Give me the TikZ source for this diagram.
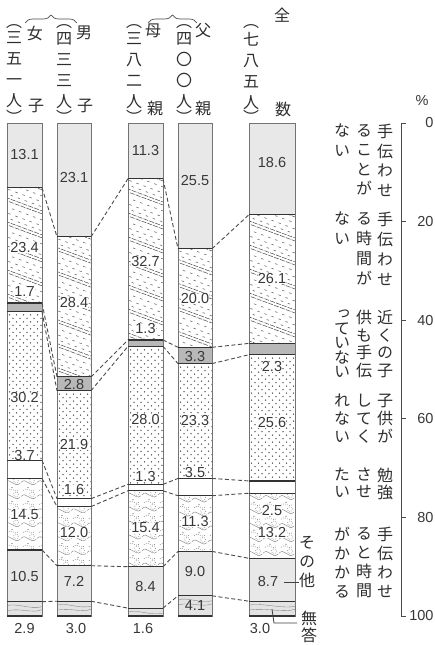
\documentclass[tikz,border=0pt]{standalone}
\usepackage{fontspec}
\setmainfont{Liberation Sans}
\newfontfamily\jp{Noto Sans CJK JP}
\newfontfamily\jpv[RawFeature=+vert]{Noto Sans CJK JP}
\usetikzlibrary{decorations.pathreplacing}
\setlength{\lineskiplimit}{-20pt}
\begin{document}
\begin{tikzpicture}[x=1pt,y=-1pt,
  num/.style={font=\fontsize{14.5}{15}\selectfont, text=black!78, inner sep=0.3pt},
  numw/.style={num, fill=white},
  jcol/.style={font=\jpv\fontsize{16}{#1}\selectfont, text=black!82, align=center, inner sep=0pt, anchor=north},
  jch/.style={font=\jp\fontsize{16}{16}\selectfont, text=black!82, inner sep=0pt},
  conn/.style={dash pattern=on 4pt off 2.5pt, line width=0.9pt, black!70},
  bnd/.style={line width=1.2pt, black!80},
  outl/.style={line width=0.8pt, black!55},
  lightfill/.style={fill=black!9},
  bandfill/.style={fill=black!28},
  hatch/.style={line width=0.5pt, black!72, dash pattern=on 5pt off 1.2pt},
  hatchminor/.style={line width=0.55pt, black!60, dash pattern=on 2.5pt off 5pt},
  dotf/.style={fill=black!70},
  swirl/.style={line width=0.35pt, black!55},
  swirldot/.style={line width=0.6pt, black!60, dash pattern=on 0.6pt off 1.6pt},
  wavy/.style={line width=0.35pt, black!50},
  leader/.style={line width=0.8pt, black!75},
  axisline/.style={line width=0.8pt, black!70},
  bracestyle/.style={decorate, decoration={brace, amplitude=8pt}, line width=0.7pt, black!70}
]
\fill[white] (0,0) rectangle (435,645);
\useasboundingbox (0,0) rectangle (435,645);

% ---------- bars: fills and patterns ----------
\foreach \i/\xl/\xr/\pa/\pb/\pc/\pd/\pe/\pf/\pg in {
 1/7/42/13.1/36.5/38.2/68.4/72.1/86.6/97.1,
 2/57/91/23.1/51.5/54.3/76.2/77.8/89.8/97.0,
 3/128/163/11.3/44.0/45.3/73.3/74.6/90.0/98.4,
 4/178/212/25.5/45.5/48.8/72.1/75.6/86.9/95.9,
 5/249/295/18.6/44.7/47.0/72.6/75.1/88.3/97.0}{
  \pgfmathsetmacro\yo{123}
  \pgfmathsetmacro\ya{123+4.93*\pa}
  \pgfmathsetmacro\yb{123+4.93*\pb}
  \pgfmathsetmacro\yc{123+4.93*\pc}
  \pgfmathsetmacro\yd{123+4.93*\pd}
  \pgfmathsetmacro\ye{123+4.93*\pe}
  \pgfmathsetmacro\yf{123+4.93*\pf}
  \pgfmathsetmacro\yg{123+4.93*\pg}
  \pgfmathsetmacro\yh{616}
  \coordinate (B\i-L-0) at (\xl,\yo); \coordinate (B\i-R-0) at (\xr,\yo);
  \coordinate (B\i-L-1) at (\xl,\ya); \coordinate (B\i-R-1) at (\xr,\ya);
  \coordinate (B\i-L-2) at (\xl,\yb); \coordinate (B\i-R-2) at (\xr,\yb);
  \coordinate (B\i-L-3) at (\xl,\yc); \coordinate (B\i-R-3) at (\xr,\yc);
  \coordinate (B\i-L-4) at (\xl,\yd); \coordinate (B\i-R-4) at (\xr,\yd);
  \coordinate (B\i-L-5) at (\xl,\ye); \coordinate (B\i-R-5) at (\xr,\ye);
  \coordinate (B\i-L-6) at (\xl,\yf); \coordinate (B\i-R-6) at (\xr,\yf);
  \coordinate (B\i-L-7) at (\xl,\yg); \coordinate (B\i-R-7) at (\xr,\yg);
  \coordinate (B\i-L-8) at (\xl,\yh); \coordinate (B\i-R-8) at (\xr,\yh);
  % plain fills
  \fill[lightfill] (\xl,\yo) rectangle (\xr,\ya);
  \fill[bandfill] (\xl,\yb) rectangle (\xr,\yc);
  \fill[lightfill] (\xl,\yf) rectangle (\xr,\yg);
  \fill[fill=black!11] (\xl,\yg) rectangle (\xr,\yh);
  % hatch (cat 2)
  \begin{scope}
    \clip (\xl,\ya) rectangle (\xr,\yb);
    \pgfmathsetmacro\ww{\xr-\xl+4}
    \pgfmathsetmacro\hs{\ya-0.37*\ww-24}
    \pgfmathsetmacro\hn{\hs+24}
    \foreach \hy in {\hs,\hn,...,\yb}{
      \draw[hatch] ({\xl-2},\hy) -- ++({\ww},{0.37*\ww});
      \draw[hatch, dash phase=2pt] ({\xl-2},{\hy+3}) -- ++({\ww},{0.37*\ww});
      \draw[hatchminor] ({\xl-2},{\hy+9}) -- ++({\ww},{0.37*\ww});
      \draw[hatchminor, dash phase=4pt] ({\xl-2},{\hy+15}) -- ++({\ww},{0.37*\ww});
      \draw[hatchminor, dash phase=1.5pt] ({\xl-2},{\hy+20}) -- ++({\ww},{0.37*\ww});
    }
  \end{scope}
  % dots (cat 4)
  \begin{scope}
    \clip (\xl,\yc) rectangle (\xr,\yd);
    \pgfmathsetmacro\dsa{\yc+3.5}\pgfmathsetmacro\dsb{\yc+10.5}
    \pgfmathsetmacro\dxa{\xl+2.5}\pgfmathsetmacro\dxb{\xl+9.5}
    \foreach \yy in {\dsa,\dsb,...,\yd}{\foreach \xx in {\dxa,\dxb,...,\xr}{\fill[dotf] (\xx,\yy) circle (0.75pt);}}
    \pgfmathsetmacro\dsc{\yc+7}\pgfmathsetmacro\dsd{\yc+14}
    \pgfmathsetmacro\dxc{\xl+6}\pgfmathsetmacro\dxd{\xl+13}
    \foreach \yy in {\dsc,\dsd,...,\yd}{\foreach \xx in {\dxc,\dxd,...,\xr}{\fill[dotf] (\xx,\yy) circle (0.75pt);}}
  \end{scope}
  % swirls (cat 6)
  \begin{scope}
    \clip (\xl,\ye) rectangle (\xr,\yf);
    \pgfmathsetmacro\swa{\ye+1}\pgfmathsetmacro\swb{\ye+15}
    \pgfmathsetmacro\sxa{\xl-2}\pgfmathsetmacro\sxb{\xl+14}
    \foreach \yy in {\swa,\swb,...,\yf}{\foreach \xx in {\sxa,\sxb,...,\xr}{
      \draw[swirl] (\xx,{\yy+3}) .. controls ({\xx+5},{\yy-3}) and ({\xx+9},{\yy+9}) .. ({\xx+15},{\yy+4});
      \draw[swirldot] ({\xx+2},{\yy+11}) .. controls ({\xx+6},{\yy+6}) and ({\xx+10},{\yy+15}) .. ({\xx+14},{\yy+10});
      \draw[swirldot] ({\xx+11},{\yy+1}) circle (2.5pt);
      \fill[black!60] ({\xx+7},{\yy+8}) circle (0.6pt);
    }}
  \end{scope}
  % waves (no answer)
  \begin{scope}
    \clip (\xl,\yg) rectangle (\xr,\yh);
    \draw[wavy] (\xl,{\yg+4}) .. controls ({\xl+10},{\yg+1}) and ({\xr-12},{\yg+8}) .. (\xr,{\yg+5});
    \draw[wavy] (\xl,{\yg+9}) .. controls ({\xl+14},{\yg+6}) and ({\xr-10},{\yg+12}) .. (\xr,{\yg+8});
  \end{scope}
}

% ---------- value labels ----------
\node[num]  (n11) at (24.5,155) {13.1};
\node[numw] (n12) at (24.5,248) {23.4};
\node[numw] (n13) at (24.5,292) {1.7};
\node[numw] (n14) at (24.5,398) {30.2};
\node[numw] (n15) at (24.5,456) {3.7};
\node[numw] (n16) at (24.5,515) {14.5};
\node[num]  (n17) at (24.5,577) {10.5};
\node[num]  (n18) at (24.5,628) {2.9};

\node[num]  (n21) at (74,178) {23.1};
\node[numw] (n22) at (74,303) {28.4};
\node[num]  (n23) at (74,385) {2.8};
\node[numw] (n24) at (74,445) {21.9};
\node[numw] (n25) at (74,490) {1.6};
\node[numw] (n26) at (74,533) {12.0};
\node[num]  (n27) at (74,581) {7.2};
\node[num]  (n28) at (76,628) {3.0};

\node[num]  (n31) at (145.5,151) {11.3};
\node[numw] (n32) at (145.5,262) {32.7};
\node[numw] (n33) at (145.5,329) {1.3};
\node[numw] (n34) at (145.5,420) {28.0};
\node[numw] (n35) at (145.5,477) {1.3};
\node[numw] (n36) at (145.5,528) {15.4};
\node[num]  (n37) at (145.5,587) {8.4};
\node[num]  (n38) at (143,628) {1.6};

\node[num]  (n41) at (195,181) {25.5};
\node[numw] (n42) at (195,299) {20.0};
\node[num]  (n43) at (195,357) {3.3};
\node[numw] (n44) at (195,421) {23.3};
\node[numw] (n45) at (195,473) {3.5};
\node[numw] (n46) at (195,522) {11.3};
\node[num]  (n47) at (195,572) {9.0};
\node[num]  (n48) at (195,606) {4.1};

\node[num]  (n51) at (272,163) {18.6};
\node[numw] (n52) at (272,279) {26.1};
\node[numw] (n53) at (272,367) {2.3};
\node[numw] (n54) at (272,423) {25.6};
\node[numw] (n55) at (272,511) {2.5};
\node[numw] (n56) at (272,533) {13.2};
\node[num]  (n57) at (268,582) {8.7};
\node[num]  (n58) at (260,628) {3.0};

% ---------- outlines and boundaries ----------
\foreach \i in {1,...,5}{
  \draw[outl] (B\i-L-0) rectangle (B\i-R-8);
  \foreach \k in {1,...,8} \draw[bnd] (B\i-L-\k) -- (B\i-R-\k);
}

% ---------- dashed connectors ----------
\foreach \i/\j in {1/2,2/3,3/4,4/5}{
  \foreach \k in {1,...,7} \draw[conn] (B\i-R-\k) -- (B\j-L-\k);
}

% ---------- right-hand category labels ----------
\node[jcol=19.5] (k1a) at (385,124) {手\\伝\\わ\\せ};
\node[jcol=19.5] (k1b) at (364,124) {る\\こ\\と\\が};
\node[jcol=19.5] (k1c) at (342,124) {な\\い};
\node[jcol=20] (k2a) at (385,212) {手\\伝\\わ\\せ};
\node[jcol=20] (k2b) at (364,212) {る\\時\\間\\が};
\node[jcol=20] (k2c) at (342,212) {な\\い};
\node[jcol=17.5] (k3a) at (385,310) {近\\く\\の\\子};
\node[jcol=17.5] (k3b) at (364,310) {供\\も\\手\\伝};
\node[jcol=14.5] (k3c) at (342,310) {っ\\て\\い\\な\\い};
\node[jcol=18] (k4a) at (385,394) {子\\供\\が};
\node[jcol=18] (k4b) at (364,394) {し\\て\\く};
\node[jcol=18] (k4c) at (342,394) {れ\\な\\い};
\node[jcol=17] (k5a) at (385,468) {勉\\強};
\node[jcol=17] (k5b) at (364,468) {さ\\せ};
\node[jcol=17] (k5c) at (342,468) {た\\い};
\node[jcol=19] (k6a) at (385,527) {手\\伝\\わ\\せ};
\node[jcol=19] (k6b) at (364,527) {る\\と\\時\\間};
\node[jcol=19] (k6c) at (342,527) {が\\か\\か\\る};
\node[jcol=19] (k7) at (307,536) {そ\\の\\他};
\node[jcol=17] (k8) at (309,611) {無\\答};

% leaders
\coordinate (ld1a) at (284,582);
\draw[leader] (ld1a) -- (k7.west |- ld1a);
\coordinate (ld2a) at (272,609);
\coordinate (ld2b) at (274,623);
\coordinate (ld2c) at (297,623);
\draw[leader] (ld2a) -- (ld2b) -- (ld2c);

% ---------- axis ----------
\coordinate (ax0) at (401,123);
\coordinate (ax100) at (401,616);
\draw[axisline] (ax0) -- (ax100);
\foreach \p in {0,20,40,60,80,100}{
  \coordinate (tk\p) at (401,{123+4.93*\p});
  \draw[axisline] (tk\p) -- ++(5,0);
  \node[num, anchor=east] (tl\p) at (434,{123+4.93*\p}) {\p};
}
\node[num] (pct) at (422,101) {\%};

% ---------- headers ----------
\node[jcol=21] (h1) at (14,31) {三\\五\\一\\人};
\node[jcol=21] (h2) at (64,32) {四\\三\\三\\人};
\node[jcol=21] (h3) at (134,32) {三\\八\\二\\人};
\node[jcol=21] (h4) at (184,32) {四\\〇\\〇\\人};
\node[jcol=21] (h5) at (251,32) {七\\八\\五\\人};
\foreach \n/\xx in {1/14,2/64,3/134,4/184,5/251}{
  \node[jch] (h\n o) at (\xx,27) {︵};
  \node[jch] (h\n c) at (\xx,117) {︶};
}
\node[jch] (g1) at (35,33) {女};
\node[jch] (s1) at (36,106) {子};
\node[jch] (g2) at (84,33) {男};
\node[jch] (s2) at (85,106) {子};
\node[jch] (g3) at (153,31) {母};
\node[jch] (s3) at (155,108) {親};
\node[jch] (g4) at (203,31) {父};
\node[jch] (s4) at (203,108) {親};
\node[jch] (g5) at (282,15) {全};
\node[jch] (s5) at (283,109) {数};

\coordinate (br1a) at (25,23); \coordinate (br1b) at (77,23);
\coordinate (br2a) at (148,23); \coordinate (br2b) at (197,23);
\draw[bracestyle] (br1a) -- (br1b);
\draw[bracestyle] (br2a) -- (br2b);
\end{tikzpicture}
\end{document}
